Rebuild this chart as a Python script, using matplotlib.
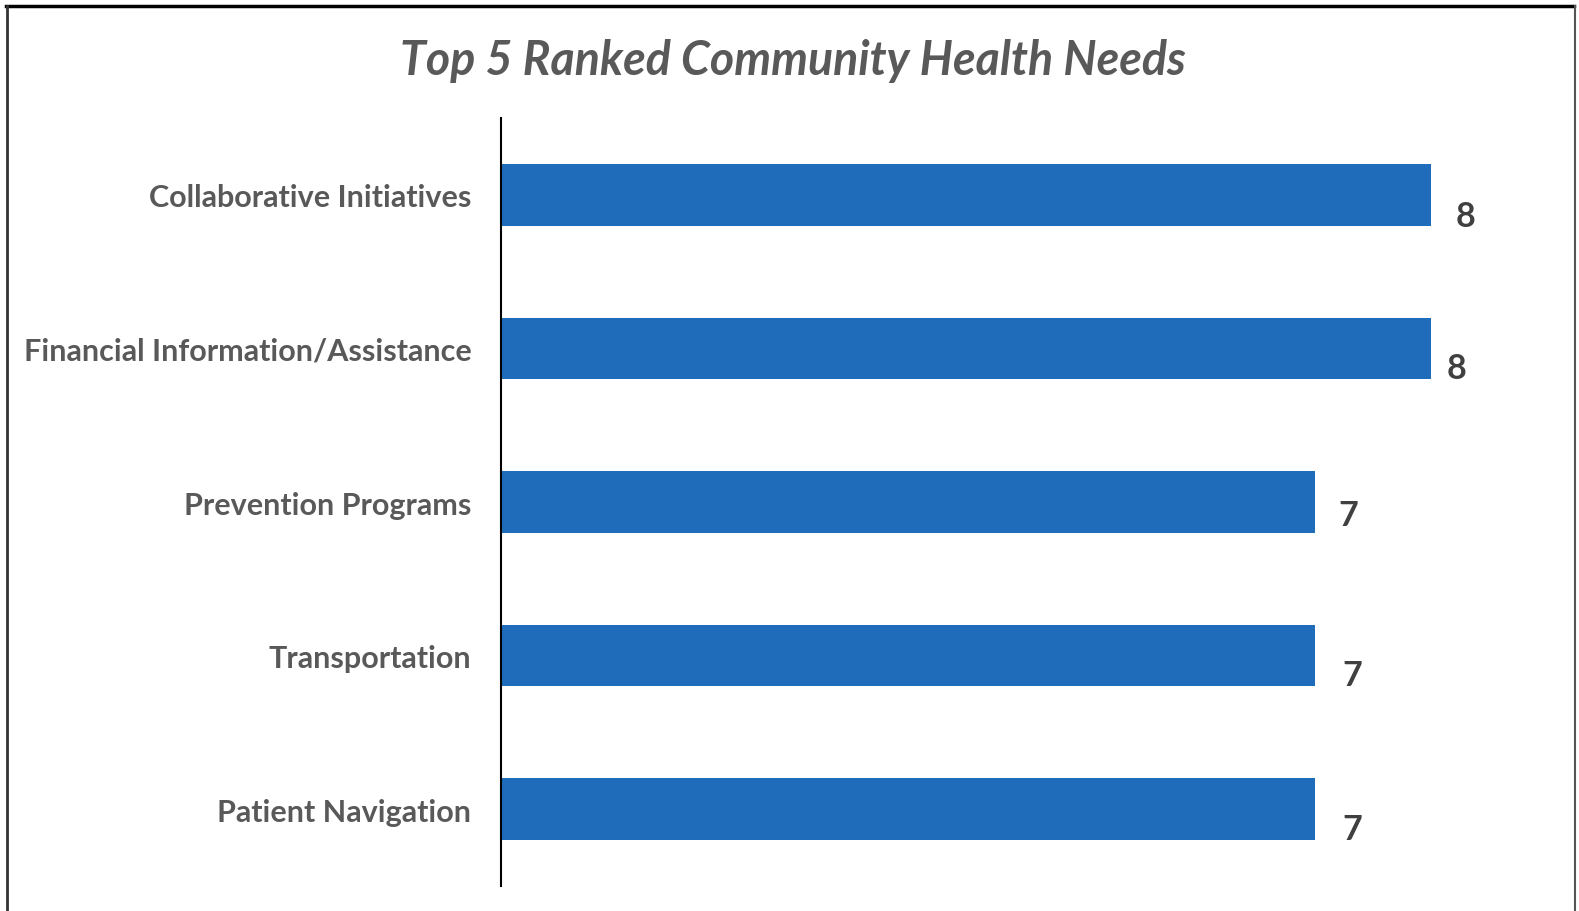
import matplotlib.pyplot as plt
from matplotlib.lines import Line2D

# data
needs = ["Collaborative Initiatives", "Financial Information/Assistance",
         "Prevention Programs", "Transportation", "Patient Navigation"]
scores = [8, 8, 7, 7, 7]

# small per-label nudges (points) so value labels sit like in the original
label_dx = [18, 11, 17, 20, 20]
label_dy = [-15, -14, -9, -14, -14]

bar_color = "#1F6DBA"
text_gray = "#595959"

plt.rcParams['font.family'] = ['Lato', 'DejaVu Sans']

fig = plt.figure(figsize=(15.79, 9.12), dpi=100)
ax = fig.add_axes([0.317, 0.0274, 0.663, 0.8421])

y = list(range(len(needs)))
ax.barh(y, scores, height=0.4, color=bar_color)
ax.set_ylim(-0.5, len(needs) - 0.5)
ax.invert_yaxis()
ax.set_xlim(0, 9)

ax.set_yticks(y)
ax.set_yticklabels(needs, fontsize=22, fontweight="bold", color=text_gray)
ax.tick_params(axis="y", length=0, pad=21)
ax.set_xticks([])

for s in ["top", "right", "bottom"]:
    ax.spines[s].set_visible(False)
ax.spines["left"].set_color("black")
ax.spines["left"].set_linewidth(1.5)

for i, v in enumerate(scores):
    ax.annotate(str(v), xy=(v, i), xytext=(label_dx[i], label_dy[i]),
                textcoords="offset points", ha="left", va="center",
                fontsize=24.5, fontweight="bold", color="#404040")

fig.text(0.502, 0.933, "Top 5 Ranked Community Health Needs", ha="center",
         va="center", fontsize=33.5, fontweight="bold", fontstyle="italic",
         color=text_gray)

# outer frame
fig.add_artist(Line2D([0.004, 0.997], [0.9925, 0.9925], color="black", lw=2.5,
                      transform=fig.transFigure))
fig.add_artist(Line2D([0.0045, 0.0045], [0.0, 0.9925], color="#333333", lw=2,
                      transform=fig.transFigure))
fig.add_artist(Line2D([0.9975, 0.9975], [0.0, 0.9925], color="#555555", lw=1.5,
                      transform=fig.transFigure))

fig.savefig("out.png", dpi=100, facecolor="white")
